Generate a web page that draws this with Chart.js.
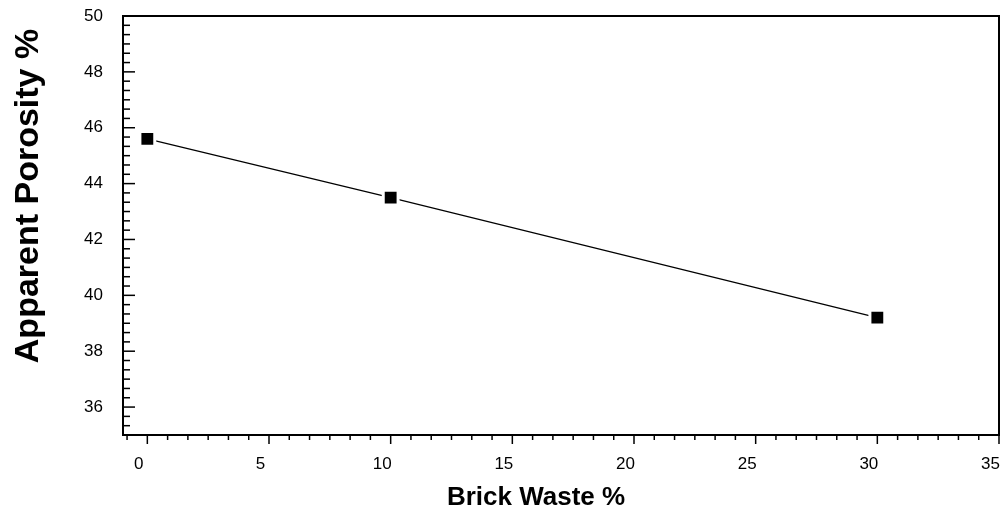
<!DOCTYPE html>
<html>
<head>
<meta charset="utf-8">
<script src="https://cdn.jsdelivr.net/npm/chart.js@4/dist/chart.umd.min.js"></script>
<style>
html,body{margin:0;padding:0;background:#fff;}
#wrap{width:1003px;height:513px;position:relative;}
</style>
</head>
<body>
<div id="wrap"><canvas id="c" width="1003" height="513"></canvas></div>
<script>
const brickWaste = [0, 10, 30];
const porosity = [45.6, 43.5, 39.2];
const xTickLabels = [0, 5, 10, 15, 20, 25, 30, 35];
const yTickLabels = [36, 38, 40, 42, 44, 46, 48, 50];
const xTitle = 'Brick Waste %';
const yTitle = 'Apparent Porosity %';
const xMinorStep = 5 / 6;
const yMinorStep = 1 / 3;

const FONT = "'Liberation Sans', Arial, sans-serif";

const tickPlugin = {
  id: 'ticksFrame',
  afterDraw(chart) {
    const ctx = chart.ctx;
    const a = chart.chartArea;
    const xs = chart.scales.x, ys = chart.scales.y;
    ctx.save();
    ctx.strokeStyle = '#000';
    ctx.lineWidth = 2;
    ctx.strokeRect(a.left, a.top, a.right - a.left, a.bottom - a.top);
    ctx.lineWidth = 1.5;
    for (let i = Math.ceil(xs.min / xMinorStep - 1e-6); i * xMinorStep <= xs.max + 1e-6; i++) {
      const px = xs.getPixelForValue(i * xMinorStep);
      const major = i % 6 === 0;
      ctx.beginPath();
      ctx.moveTo(px, a.bottom);
      ctx.lineTo(px, a.bottom + (major ? 9 : 5));
      ctx.stroke();
    }
    for (let i = Math.ceil(ys.min / yMinorStep - 1e-6); i * yMinorStep <= ys.max + 1e-6; i++) {
      const py = ys.getPixelForValue(i * yMinorStep);
      const major = (i % 6 === 0);
      ctx.beginPath();
      ctx.moveTo(a.left, py);
      ctx.lineTo(a.left + (major ? 12 : 7), py);
      ctx.stroke();
    }
    ctx.fillStyle = '#000';
    ctx.textAlign = 'center';
    ctx.textBaseline = 'alphabetic';
    ctx.font = "bold 26px " + FONT;
    ctx.fillText(xTitle, 536, 505);
    ctx.save();
    ctx.translate(38, 196);
    ctx.rotate(-Math.PI / 2);
    ctx.font = "bold 34px " + FONT;
    ctx.fillText(yTitle, 0, 0);
    ctx.restore();
    ctx.restore();
  }
};

new Chart(document.getElementById('c'), {
  type: 'scatter',
  data: {
    datasets: [{
      data: brickWaste.map((x, i) => ({x: x, y: porosity[i]})),
      showLine: true,
      borderColor: '#000',
      borderWidth: 1.2,
      pointStyle: 'rect',
      pointRadius: 10.5,
      pointHoverRadius: 10.5,
      pointBackgroundColor: '#000',
      pointBorderColor: '#fff',
      pointBorderWidth: 3,
      tension: 0
    }]
  },
  options: {
    responsive: false,
    animation: false,
    events: [],
    layout: {autoPadding: false, padding: {left: 0, right: 4, top: 16, bottom: 0}},
    plugins: {legend: {display: false}, tooltip: {enabled: false}},
    scales: {
      x: {
        type: 'linear',
        min: -1, max: 35,
        grid: {display: false, drawTicks: false},
        border: {display: false},
        afterBuildTicks(s) { s.ticks = xTickLabels.map(v => ({value: v})); },
        afterFit(s) { s.height = 78; s.paddingLeft = 0; s.paddingRight = 0; },
        ticks: {
          padding: 19,
          labelOffset: -8.5,
          color: '#000',
          font: {family: FONT, size: 17},
          maxRotation: 0,
          autoSkip: false,
          callback: v => String(v)
        },
        title: {display: false}
      },
      y: {
        type: 'linear',
        min: 35, max: 50,
        grid: {display: false, drawTicks: false},
        border: {display: false},
        afterBuildTicks(s) { s.ticks = yTickLabels.map(v => ({value: v})); },
        afterFit(s) { s.width = 123; s.paddingTop = 0; s.paddingBottom = 0; },
        ticks: {
          padding: 20,
          color: '#000',
          font: {family: FONT, size: 17},
          autoSkip: false,
          callback: v => String(v)
        },
        title: {display: false}
      }
    }
  },
  plugins: [tickPlugin]
});
</script>
</body>
</html>
